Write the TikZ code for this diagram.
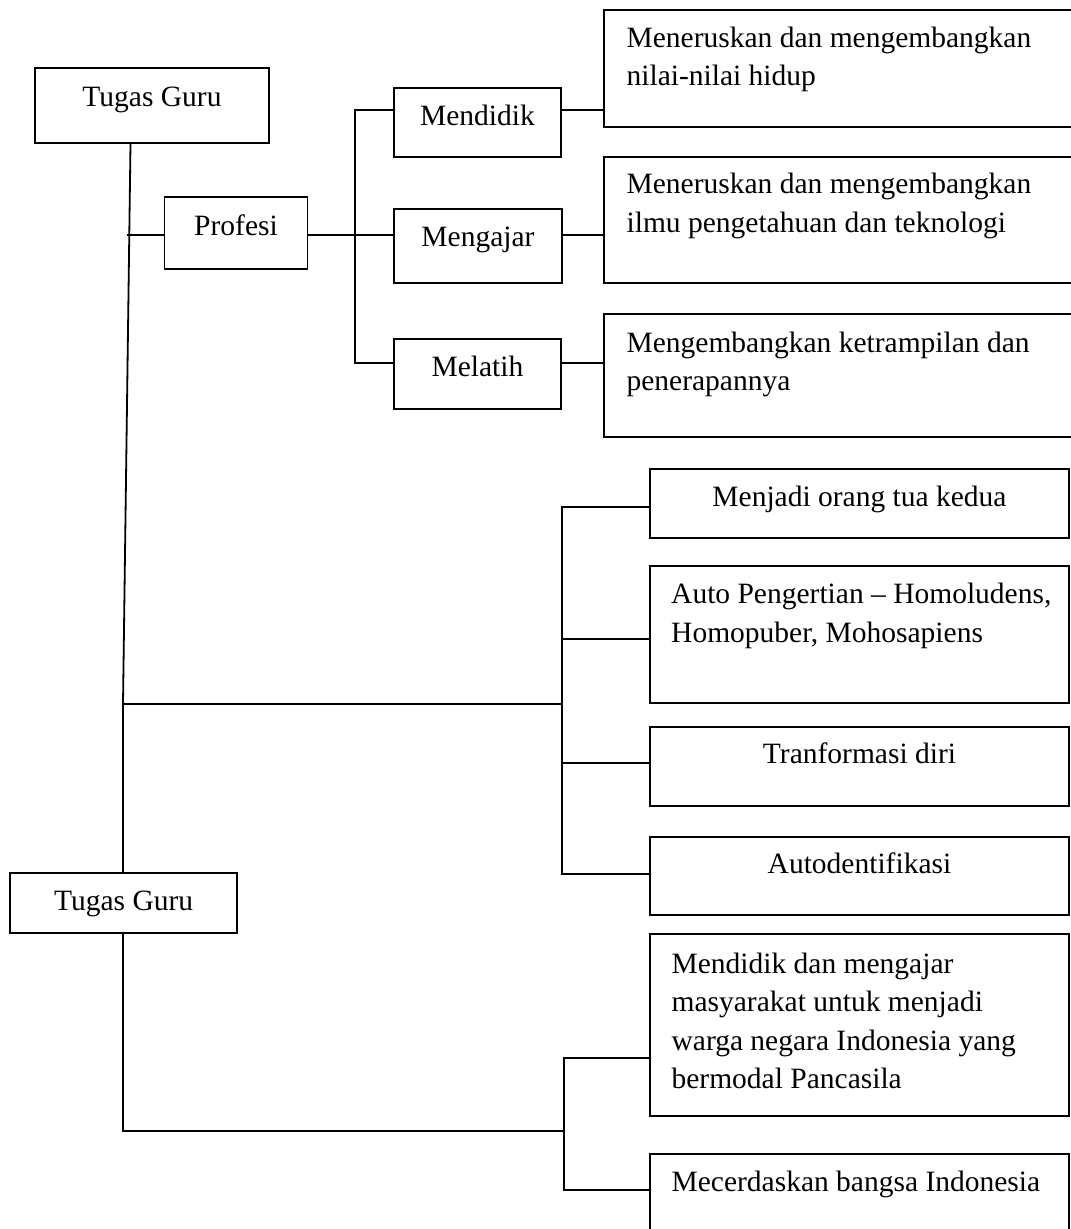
\documentclass[tikz,border=0pt]{standalone}
\usepackage{fontspec}
\setmainfont{Liberation Serif}
\begin{document}
\begin{tikzpicture}[x=1pt,y=-1pt,
  box/.style={draw, line width=1.8pt, rectangle, inner sep=0pt},
  txt/.style={inner sep=0pt, font=\fontsize{29.5}{38.5}\selectfont, align=left},
  ln/.style={line width=1.8pt}]
\useasboundingbox (0,0) rectangle (1071,1229);
\clip (0,0) rectangle (1071,1229);
% boxes
\node[box, minimum width=234pt, minimum height=75pt] (tg1) at (152,105.5) {};
\node[box, minimum width=143pt, minimum height=72pt] (prof) at (236,232.7) {};
\node[box, minimum width=167pt, minimum height=69pt] (mdk) at (477.5,122.2) {};
\node[box, minimum width=168pt, minimum height=74.3pt] (mgj) at (478,245.9) {};
\node[box, minimum width=167pt, minimum height=70.3pt] (mlt) at (477.5,374.2) {};
\node[box, minimum width=481pt, minimum height=117.3pt] (b1) at (844.5,68.35) {};
\node[box, minimum width=481pt, minimum height=126.3pt] (b2) at (844.5,219.85) {};
\node[box, minimum width=481pt, minimum height=122.4pt] (b3) at (844.5,375.5) {};
\node[box, minimum width=419pt, minimum height=69pt] (kedua) at (859.5,503.8) {};
\node[box, minimum width=419pt, minimum height=137.3pt] (auto) at (859.5,634.65) {};
\node[box, minimum width=419pt, minimum height=78.4pt] (trans) at (859.5,766.5) {};
\node[box, minimum width=419pt, minimum height=78.3pt] (autod) at (859.5,875.85) {};
\node[box, minimum width=226.7pt, minimum height=60.3pt] (tg2) at (123.65,903.15) {};
\node[box, minimum width=419pt, minimum height=181.7pt] (pan) at (859.5,1025.15) {};
\node[box, minimum width=419pt, minimum height=85.7pt] (cer) at (859.5,1197.15) {};
% texts
\node[txt, anchor=base] (ttg1) at (152,106) {Tugas Guru};
\node[txt, anchor=base] (tprof) at (236,235) {Profesi};
\node[txt, anchor=base] (tmdk) at (477.5,125) {Mendidik};
\node[txt, anchor=base] (tmgj) at (478,246.7) {Mengajar};
\node[txt, anchor=base] (tmlt) at (477.5,376) {Melatih};
\node[txt, anchor=north west] (tb1) at (626.4,26.6) {Meneruskan dan mengembangkan\\nilai-nilai hidup};
\node[txt, anchor=north west] (tb2) at (626.4,173.2) {Meneruskan dan mengembangkan\\ilmu pengetahuan dan teknologi};
\node[txt, anchor=north west] (tb3) at (626.4,331.6) {Mengembangkan ketrampilan dan\\penerapannya};
\node[txt, anchor=base] (tkedua) at (859.5,506.7) {Menjadi orang tua kedua};
\node[txt, anchor=north west] (tauto) at (671,583.2) {Auto Pengertian – Homoludens,\\Homopuber, Mohosapiens};
\node[txt, anchor=base] (ttrans) at (859.5,763.3) {Tranformasi diri};
\node[txt, anchor=base] (tautod) at (859.5,873.3) {Autodentifikasi};
\node[txt, anchor=base] (ttg2) at (123.65,910.7) {Tugas Guru};
\node[txt, anchor=north west] (tpan) at (671.4,952.6) {Mendidik dan mengajar\\masyarakat untuk menjadi\\warga negara Indonesia yang\\bermodal Pancasila};
\node[txt, anchor=base west] (tcer) at (671.4,1191.7) {Mecerdaskan bangsa Indonesia};
% junction coordinates
\coordinate (j1) at (123,704);
\coordinate (pstart) at (126.5,235.3);
\coordinate (v1t) at (355,110);
\coordinate (v1m) at (355,235.3);
\coordinate (v1b) at (355,362.7);
\coordinate (v2t) at (562,507.3);
\coordinate (v2a) at (562,639);
\coordinate (v2m) at (562,704);
\coordinate (v2c) at (562,763);
\coordinate (v2b) at (562,874);
\coordinate (j2) at (123.3,1131);
\coordinate (v3t) at (564,1057.7);
\coordinate (v3m) at (564,1131);
\coordinate (v3b) at (564,1190);
% trunk
\draw[ln] ([xshift=-21.5pt]tg1.south) -- (j1) -- (tg2.north -| j1);
% profesi branch
\draw[ln] (pstart) -- (prof.west |- pstart);
\draw[ln] (prof.east |- v1m) -- (mgj.west |- v1m);
\draw[ln] (mdk.west |- v1t) -- (v1t) -- (v1b) -- (mlt.west |- v1b);
\draw[ln] (mdk.east |- 0,110) -- (b1.west |- 0,110);
\draw[ln] (mgj.east |- v1m) -- (b2.west |- v1m);
\draw[ln] (mlt.east |- v1b) -- (b3.west |- v1b);
% second branch
\draw[ln] (j1) -- (v2m);
\draw[ln] (kedua.west |- v2t) -- (v2t) -- (v2b) -- (autod.west |- v2b);
\draw[ln] (v2a) -- (auto.west |- v2a);
\draw[ln] (v2c) -- (trans.west |- v2c);
% third branch
\draw[ln] (tg2.south -| j2) -- (j2) -- (v3m);
\draw[ln] (pan.west |- v3t) -- (v3t) -- (v3b) -- (cer.west |- v3b);
\end{tikzpicture}
\end{document}
